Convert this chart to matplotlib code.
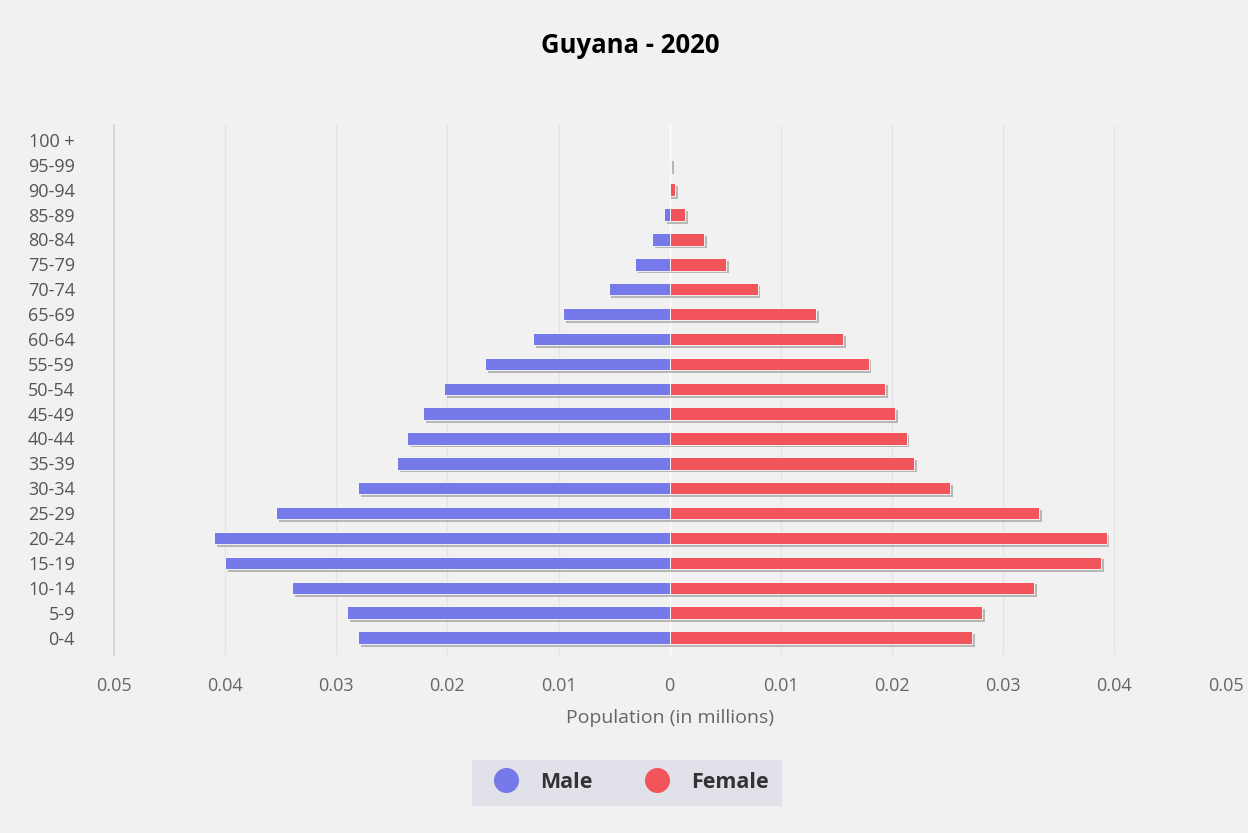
import matplotlib

matplotlib.use('Agg')
import matplotlib.pyplot as plt
import matplotlib.patheffects as pe
from matplotlib.lines import Line2D
import numpy as np

age_groups = ['0-4', '5-9', '10-14', '15-19', '20-24', '25-29', '30-34', '35-39',
              '40-44', '45-49', '50-54', '55-59', '60-64', '65-69', '70-74',
              '75-79', '80-84', '85-89', '90-94', '95-99', '100 +']
male = [0.0280, 0.0290, 0.0340, 0.0400, 0.0410, 0.0354, 0.0280, 0.0245,
        0.0236, 0.0222, 0.0203, 0.0166, 0.0123, 0.0096, 0.0055,
        0.0031, 0.0016, 0.0005, 0.0001, 0.00002, 0.0]
female = [0.0272, 0.0281, 0.0328, 0.0388, 0.0393, 0.0332, 0.0252, 0.0220,
          0.0213, 0.0203, 0.0194, 0.0179, 0.0156, 0.0132, 0.0079,
          0.0051, 0.0031, 0.0014, 0.0005, 0.0001, 0.00002]
x_ticks = [-0.05, -0.04, -0.03, -0.02, -0.01, 0, 0.01, 0.02, 0.03, 0.04, 0.05]

male_color = '#7679ea'
female_color = '#f2545b'

plt.rcParams['font.family'] = ['Open Sans', 'DejaVu Sans']

fig = plt.figure(figsize=(12.48, 8.33), dpi=100, facecolor='#f1f1f1')
ax = fig.add_axes([0.0913, 0.2137, 0.8907, 0.6363])
ax.set_facecolor('#f1f1f1')

y = np.arange(len(age_groups))
shadow = [pe.SimplePatchShadow(offset=(2, -2), shadow_rgbFace='#888888', alpha=0.55), pe.Normal()]
ax.barh(y, [-v for v in male], height=0.5, color=male_color, edgecolor='white',
        linewidth=0.6, path_effects=shadow, zorder=3)
ax.barh(y, female, height=0.5, color=female_color, edgecolor='white',
        linewidth=0.6, path_effects=shadow, zorder=3)

ax.set_xlim(-0.05, 0.05)
ax.set_ylim(-0.7, 20.6)
ax.set_yticks(y)
ax.set_yticklabels(age_groups, fontsize=13, color='#555555')
ax.set_xticks(x_ticks)
ax.set_xticklabels(['0' if t == 0 else f'{abs(t):.2f}' for t in x_ticks],
                   fontsize=13, color='#666666')
ax.tick_params(axis='both', length=0)
ax.tick_params(axis='x', pad=16)
ax.tick_params(axis='y', pad=28)

for t in x_ticks:
    if t == -0.05:
        continue
    ax.axvline(t, color='white' if t == 0 else '#e4e4e4', lw=1, zorder=1)

for s in ['top', 'right', 'bottom']:
    ax.spines[s].set_visible(False)
ax.spines['left'].set_color('#c9d2e0')
ax.spines['left'].set_linewidth(1.2)

ax.set_xlabel('Population (in millions)', fontsize=14, color='#666666', labelpad=10)
fig.suptitle('Guyana - 2020', fontsize=18.5, fontweight='bold', y=0.962, x=0.505)

handles = [Line2D([], [], marker='o', ls='', markersize=17, color=male_color),
           Line2D([], [], marker='o', ls='', markersize=17, color=female_color)]
leg = fig.legend(handles, ['Male', 'Female'], loc='center', bbox_to_anchor=(0.502, 0.061),
                 ncol=2, frameon=True, fancybox=False, facecolor='#e1e1ea', edgecolor='#e1e1ea',
                 prop={'size': 15.5, 'weight': 'bold'}, handletextpad=0.6, columnspacing=2.0,
                 borderpad=0.55)
for txt in leg.get_texts():
    txt.set_color('#333333')
leg.get_frame().set_alpha(1)

fig.savefig('out.png', dpi=100, facecolor=fig.get_facecolor())
